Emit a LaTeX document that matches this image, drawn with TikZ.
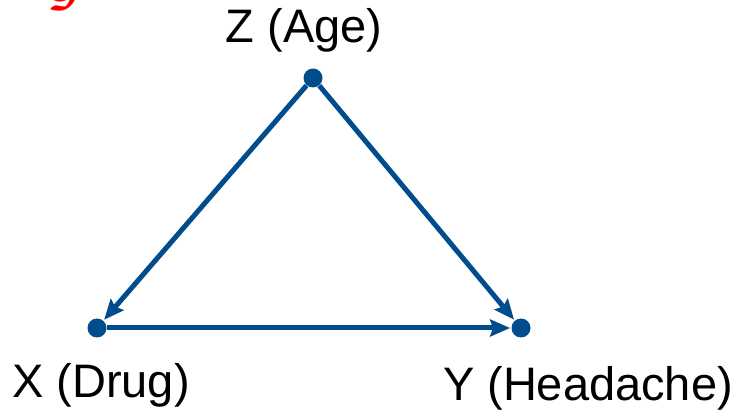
\documentclass[tikz,border=0pt]{standalone}
\usepackage{bm}
\usepackage{fontspec}
\setmainfont{Liberation Sans}
\usetikzlibrary{arrows.meta}

\definecolor{dagblue}{RGB}{0,76,140}

\tikzset{
    dot/.style={circle, fill=dagblue, inner sep=0pt, minimum size=9.5pt},
    edge/.style={draw=dagblue, line width=2.5pt, -{Stealth[length=10pt,width=8.5pt,inset=1.5pt]}, shorten >=0.5pt},
    lbl/.style={font=\fontsize{23.5}{28}\selectfont, inner sep=0pt}
}

\begin{document}
\begin{tikzpicture}[x=0.5pt, y=-0.5pt]
    \useasboundingbox (0,0) rectangle (738,416);
    \clip (0,0) rectangle (738,416);

    % graph name, cut by the top edge
    \node[text=red, inner sep=0pt, anchor=south, font=\fontsize{34}{34}\selectfont] (gname) at (66,11) {$\bm{\mathcal{G}}$};

    \node[dot] (z) at (313,78) {};
    \node[dot] (x) at (97,328) {};
    \node[dot] (y) at (521,328) {};

    \draw[edge] (z) -- (x);
    \draw[edge] (z) -- (y);
    \draw[edge] (x) -- (y);

    \node[lbl] (zl) at (304,30) {Z (Age)};
    \node[lbl] (xl) at (101,385) {X (Drug)};
    \node[lbl] (yl) at (588,388) {Y (Headache)};
\end{tikzpicture}
\end{document}
